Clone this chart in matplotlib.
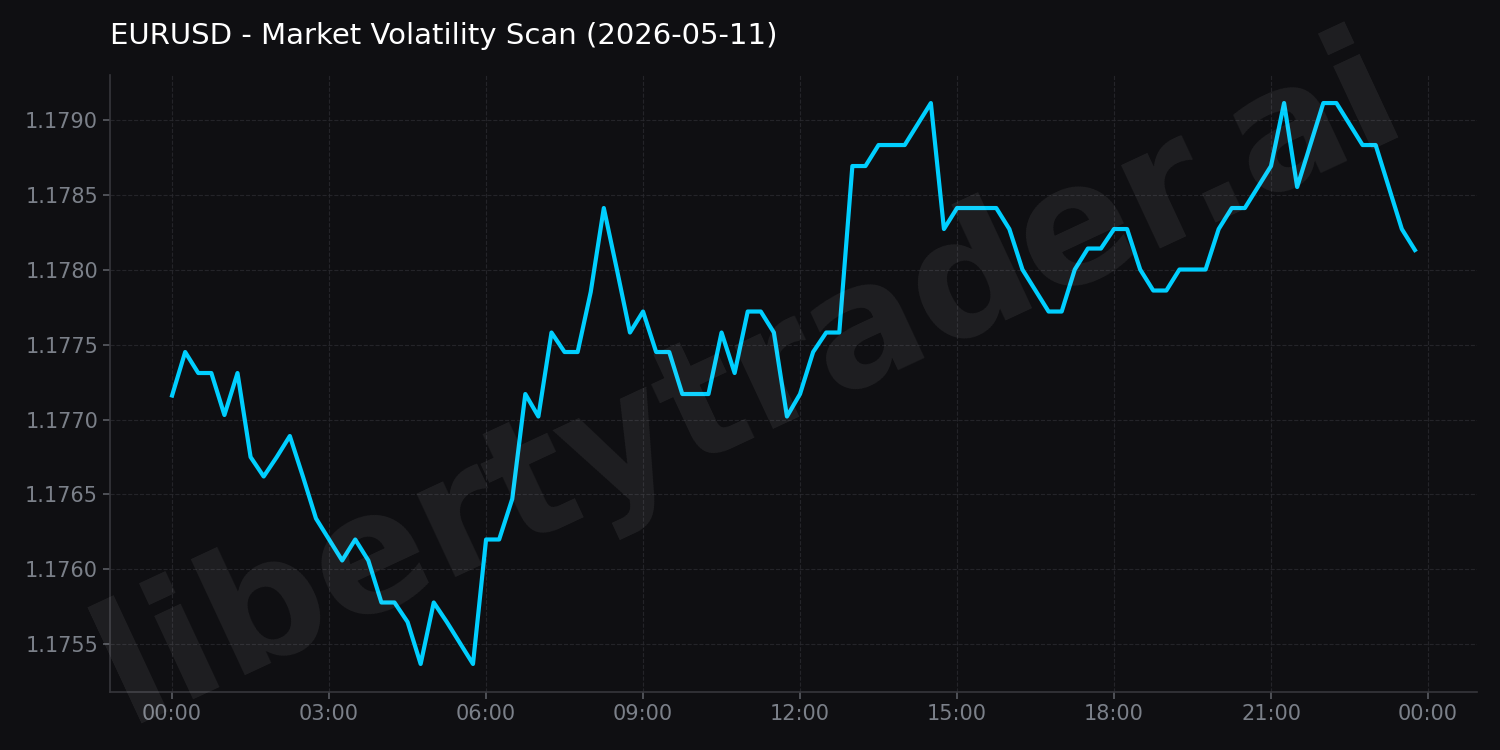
import numpy as np
import pandas as pd
import matplotlib
import matplotlib.pyplot as plt
import matplotlib.dates as mdates

plt.switch_backend('agg')

# EURUSD close, 15 min bars, 2026-05-11
times = pd.date_range('2026-05-11 00:00', periods=96, freq='15min')
prices = [
    1.17716, 1.17745, 1.17731, 1.17731, 1.17703, 1.17731, 1.17675, 1.17662,
    1.17675, 1.17689, 1.17662, 1.17634, 1.17620, 1.17606, 1.17620, 1.17606,
    1.17578, 1.17578, 1.17565, 1.17537, 1.17578, 1.17565, 1.17551, 1.17537,
    1.17620, 1.17620, 1.17647, 1.17717, 1.17702, 1.17758, 1.17745, 1.17745,
    1.17785, 1.17841, 1.17800, 1.17758, 1.17772, 1.17745, 1.17745, 1.17717,
    1.17717, 1.17717, 1.17758, 1.17731, 1.17772, 1.17772, 1.17758, 1.17702,
    1.17717, 1.17745, 1.17758, 1.17758, 1.17869, 1.17869, 1.17883, 1.17883,
    1.17883, 1.17897, 1.17911, 1.17827, 1.17841, 1.17841, 1.17841, 1.17841,
    1.17827, 1.17800, 1.17786, 1.17772, 1.17772, 1.17800, 1.17814, 1.17814,
    1.17827, 1.17827, 1.17800, 1.17786, 1.17786, 1.17800, 1.17800, 1.17800,
    1.17827, 1.17841, 1.17841, 1.17855, 1.17869, 1.17911, 1.17855, 1.17883,
    1.17911, 1.17911, 1.17897, 1.17883, 1.17883, 1.17855, 1.17827, 1.17813,
]
title = 'EURUSD - Market Volatility Scan (2026-05-11)'
watermark = 'libertytrader.ai'

bg = '#0f0f12'
line_color = '#00cfff'
tick_color = '#3f4046'
label_color = '#7b8089'
grid_color = '#2a2a2f'
spine_color = '#36363b'

fig = plt.figure(figsize=(15, 7.5), dpi=100, facecolor=bg)
ax = fig.add_axes([0.0733, 0.0773, 0.9114, 0.8227])
ax.set_facecolor(bg)

# watermark behind everything
fig.text(0.5, 0.49, watermark, fontsize=120, fontweight='bold', color='#ffffff',
         alpha=0.07, rotation=25, ha='center', va='center', zorder=0)

ax.plot(times, prices, color=line_color, linewidth=3, zorder=3)

ax.xaxis.set_major_locator(mdates.HourLocator(byhour=range(0, 24, 3)))
ax.xaxis.set_major_formatter(mdates.DateFormatter('%H:%M'))
ax.yaxis.set_major_formatter(matplotlib.ticker.FormatStrFormatter('%.4f'))

ax.grid(True, color=grid_color, linestyle='--', linewidth=0.8, alpha=0.8)
ax.tick_params(colors='#5a5c63', labelcolor=label_color, labelsize=15,
               length=5, width=1.2)
for side in ['top', 'right']:
    ax.spines[side].set_visible(False)
for side in ['left', 'bottom']:
    ax.spines[side].set_color(spine_color)
    ax.spines[side].set_linewidth(1.2)

fig.text(0.0733, 0.952, title, fontsize=21, color='white', ha='left', va='center')

plt.savefig('out.png', dpi=100, facecolor=bg)
